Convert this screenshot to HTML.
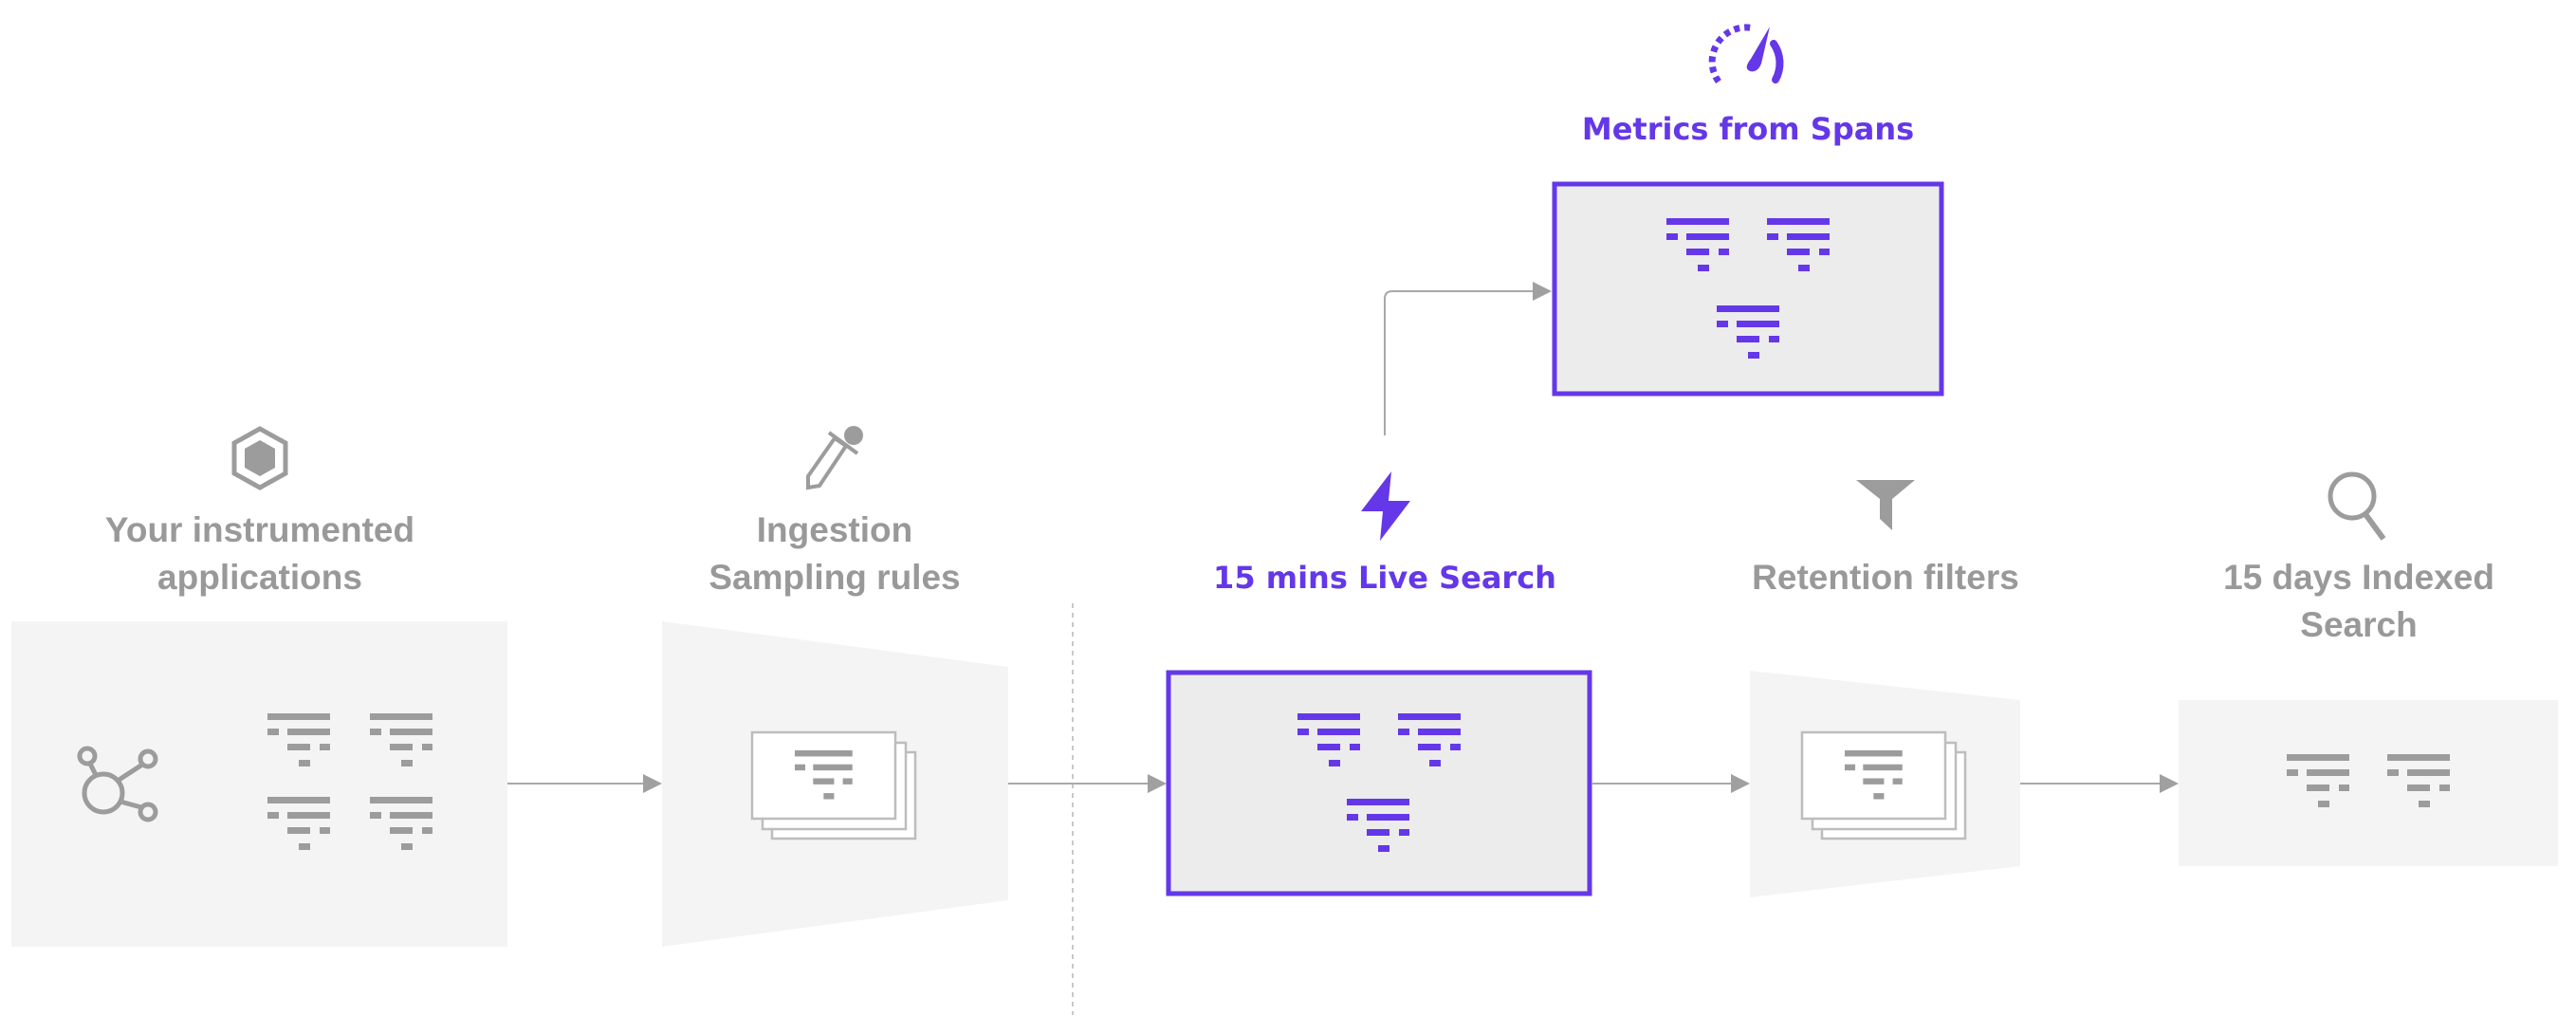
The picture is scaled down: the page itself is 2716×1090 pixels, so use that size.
<!DOCTYPE html>
<html><head><meta charset="utf-8"><style>
html,body{margin:0;padding:0;background:#fff;}
svg{display:block}
.g{font-family:"Liberation Sans",sans-serif;font-weight:bold;font-size:37px;fill:#999;text-anchor:middle}
.p{font-family:"DejaVu Sans","Liberation Sans",sans-serif;font-weight:bold;font-size:32px;fill:#6438e8;text-anchor:middle}
</style></head><body>
<svg width="2716" height="1090" viewBox="0 0 2716 1090" xmlns="http://www.w3.org/2000/svg">
<defs>
<g id="fn">
<rect x="0" y="0" width="66" height="7"/>
<rect x="0" y="16" width="12" height="7"/><rect x="21" y="16" width="45" height="7"/>
<rect x="21" y="32" width="24" height="7"/><rect x="55" y="32" width="11" height="7"/>
<rect x="33" y="49" width="12" height="7"/>
</g>
</defs>

<rect x="12" y="655" width="523" height="343" fill="#f4f4f4"/>
<polygon points="698,655 1063,703 1063,949 698,998" fill="#f4f4f4"/>
<rect x="1232" y="709" width="444" height="233" fill="#ececec" stroke="#6438e8" stroke-width="5"/>
<rect x="1639" y="194" width="408" height="221" fill="#ececec" stroke="#6438e8" stroke-width="5"/>
<polygon points="1845,707 2130,738 2130,913 1845,946" fill="#f4f4f4"/>
<rect x="2297" y="738" width="400" height="175" fill="#f4f4f4"/>

<line x1="1131" y1="636" x2="1131" y2="1070" stroke="#c8c8c8" stroke-width="2" stroke-dasharray="5,5"/>

<g stroke="#a8a8a8" stroke-width="2" fill="none">
<line x1="535" y1="826" x2="680" y2="826"/>
<line x1="1063" y1="826" x2="1212" y2="826"/>
<line x1="1678" y1="826" x2="1827" y2="826"/>
<line x1="2130" y1="826" x2="2279" y2="826"/>
<path d="M1460 459 V315 Q1460 307 1468 307 H1618"/>
</g>
<g fill="#a0a0a0">
<polygon points="678,816 698,826 678,836"/>
<polygon points="1210,816 1230,826 1210,836"/>
<polygon points="1825,816 1845,826 1825,836"/>
<polygon points="2277,816 2297,826 2277,836"/>
<polygon points="1616,297 1636,307 1616,317"/>
</g>

<g fill="#9c9c9c">
<use href="#fn" transform="translate(282,752)"/>
<use href="#fn" transform="translate(390,752)"/>
<use href="#fn" transform="translate(282,840)"/>
<use href="#fn" transform="translate(390,840)"/>
<use href="#fn" transform="translate(2411,795)"/>
<use href="#fn" transform="translate(2517,795)"/>
</g>
<g fill="#6438e8">
<use href="#fn" transform="translate(1368,752)"/>
<use href="#fn" transform="translate(1474,752)"/>
<use href="#fn" transform="translate(1420,842)"/>
<use href="#fn" transform="translate(1757,230)"/>
<use href="#fn" transform="translate(1863,230)"/>
<use href="#fn" transform="translate(1810,322)"/>
</g>

<g fill="#fff" stroke="#bdbdbd" stroke-width="2.5">
<rect x="814" y="793" width="151" height="91"/>
<rect x="804" y="783" width="151" height="91"/>
<rect x="793" y="772" width="151" height="91"/>
<rect x="1921" y="793" width="151" height="91"/>
<rect x="1911" y="783" width="151" height="91"/>
<rect x="1900" y="772" width="151" height="91"/>
</g>
<g fill="#9c9c9c">
<use href="#fn" transform="translate(838,791) scale(0.92)"/>
<use href="#fn" transform="translate(1945,791) scale(0.92)"/>
</g>

<polygon points="274,452 301,467 301,499 274,514 247,499 247,467" fill="none" stroke="#9c9c9c" stroke-width="5"/>
<polygon points="274,464 290,473 290,493 274,502 258,493 258,473" fill="#9c9c9c"/>
<g fill="none" stroke="#9c9c9c" stroke-width="5">
<circle cx="109" cy="836" r="20"/>
<circle cx="92" cy="797" r="8"/>
<circle cx="156" cy="800" r="8"/>
<circle cx="156" cy="856" r="8"/>
<line x1="95" y1="805" x2="101" y2="817"/>
<line x1="150" y1="806" x2="124" y2="823"/>
<line x1="149" y1="851" x2="127" y2="845"/>
</g>
<g fill="none" stroke="#9c9c9c" stroke-width="4">
<path d="M852 514 L852 502 L880 462 L892 470 L864 512 Z"/>
<line x1="874" y1="456" x2="904" y2="478"/>
</g>
<circle cx="900" cy="459" r="10" fill="#9c9c9c"/>
<polygon points="1467,497 1435,539 1458,539 1455,570 1487,528 1464,528" fill="#6438e8"/>
<path d="M1812 86 A36 36 0 0 1 1850 30" fill="none" stroke="#6438e8" stroke-width="7" stroke-dasharray="6,5"/>
<path d="M1870 46 A36 36 0 0 1 1872 84" fill="none" stroke="#6438e8" stroke-width="8" stroke-linecap="round"/>
<path d="M1866 28 L1846 62 Q1838 72 1845 75 Q1853 77 1857 67 Z" fill="#6438e8"/>
<polygon points="1957,506 2019,506 1995,526 1995,559 1982,547 1982,526" fill="#9c9c9c"/>
<circle cx="2480" cy="523" r="23" fill="none" stroke="#9c9c9c" stroke-width="5"/>
<line x1="2494" y1="542" x2="2513" y2="568" stroke="#9c9c9c" stroke-width="6"/>

<text class="g" x="274" y="571">Your instrumented</text>
<text class="g" x="274" y="621">applications</text>
<text class="g" x="880" y="571">Ingestion</text>
<text class="g" x="880" y="621">Sampling rules</text>
<text class="p" x="1460" y="620">15 mins Live Search</text>
<text class="p" x="1843" y="147">Metrics from Spans</text>
<text class="g" x="1988" y="621">Retention filters</text>
<text class="g" x="2487" y="621">15 days Indexed</text>
<text class="g" x="2487" y="671">Search</text>
</svg>
</body></html>
